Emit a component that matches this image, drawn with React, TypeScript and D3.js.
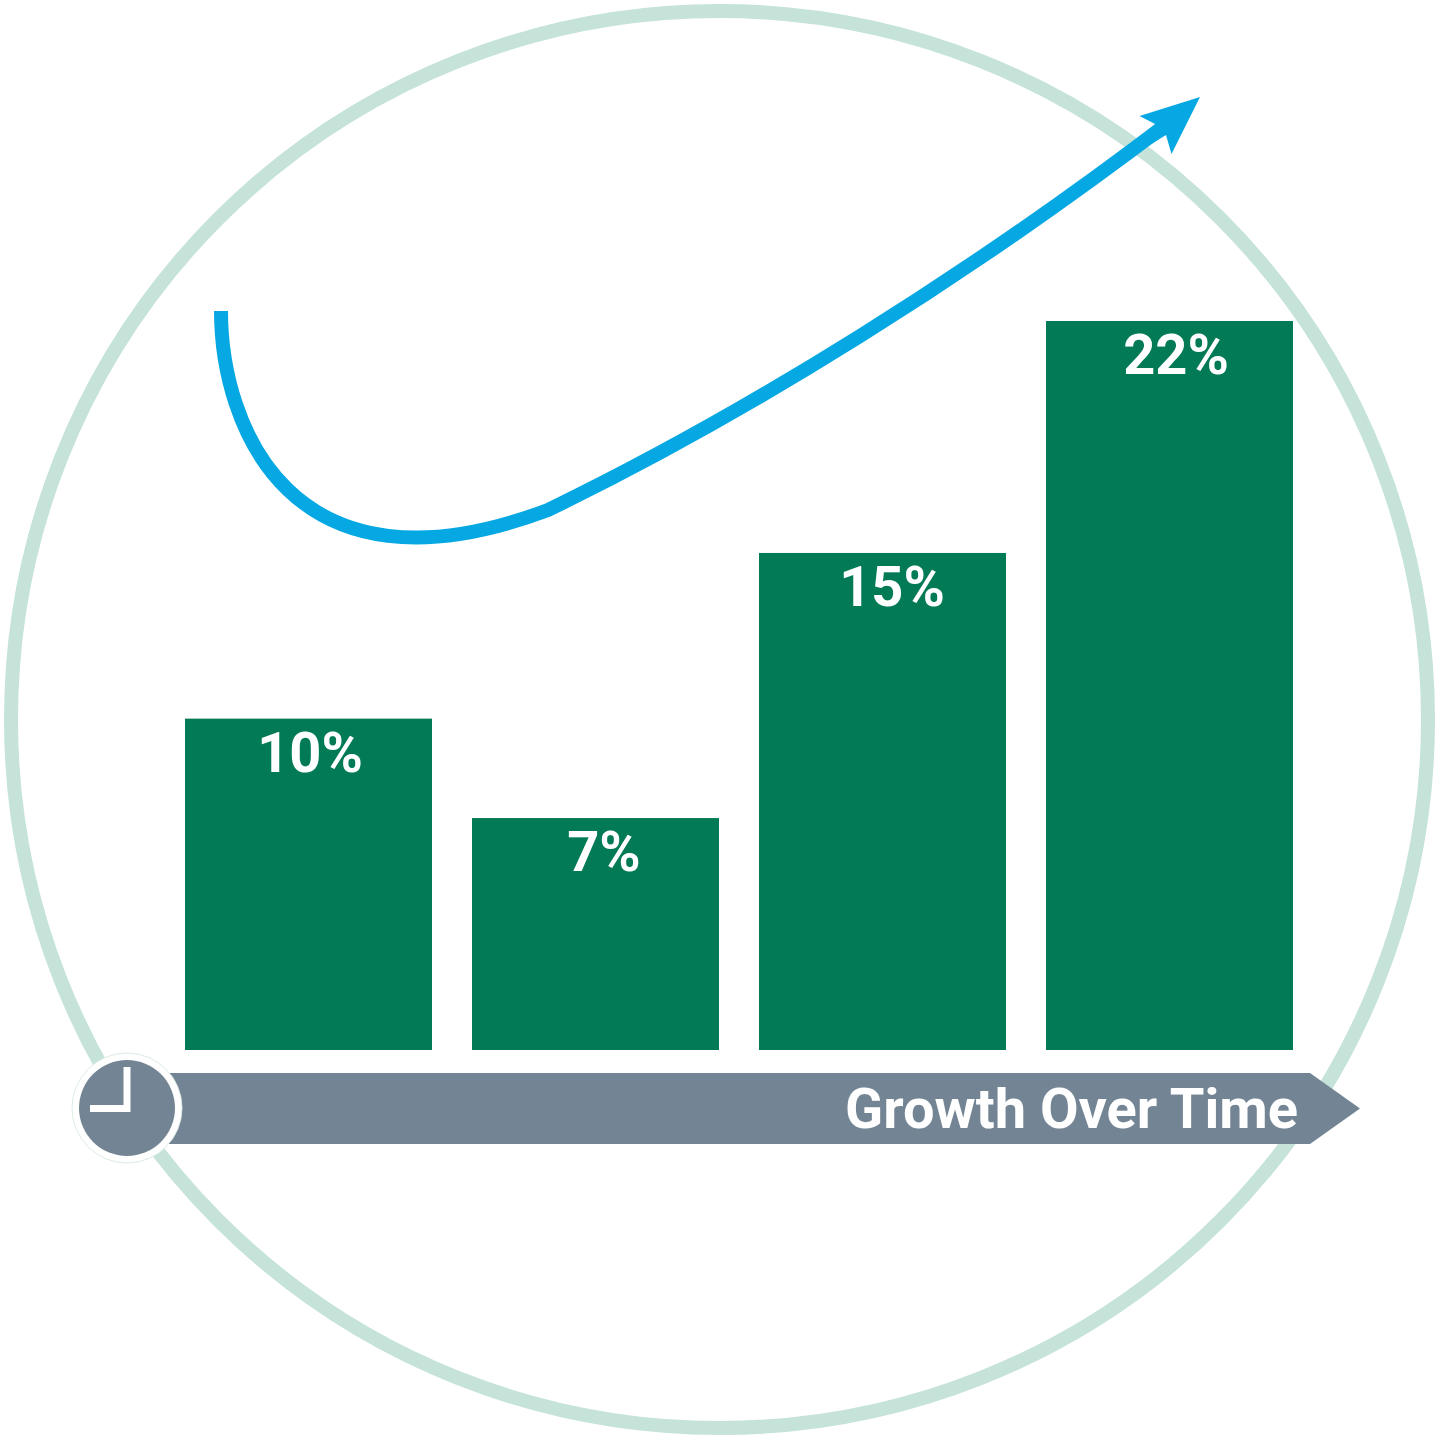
import React from "react";
import * as d3 from "d3";

const categories = ["A", "B", "C", "D"];
const values = [10, 7, 15, 22];
const labels = ["10%", "7%", "15%", "22%"];
const labelOffsets = [1.5, 8.5, 9.5, 6.5];
const trendStart = [221, 311];
const trendDip = [[221, 425], [290, 607], [548, 510]];
const trendRise = [[750, 412], [970, 274], [1168, 123]];
const FONT = "Roboto, sans-serif";
const SLATE = "#738594";

export default function App() {
  const x = d3.scaleBand<string>().domain(categories).range([185, 1293]).paddingInner(40 / 287).paddingOuter(0);
  const y = d3.scaleLinear().domain([0, 22]).range([1050, 321]);
  const trend = d3.path();
  trend.moveTo(trendStart[0], trendStart[1]);
  trend.bezierCurveTo(trendDip[0][0], trendDip[0][1], trendDip[1][0], trendDip[1][1], trendDip[2][0], trendDip[2][1]);
  trend.bezierCurveTo(trendRise[0][0], trendRise[0][1], trendRise[1][0], trendRise[1][1], trendRise[2][0], trendRise[2][1]);
  return (
    <svg width={1440} height={1440} viewBox="0 0 1440 1440" style={{ position: "absolute", left: 0, top: 0, background: "#fff" }}>
      <circle cx={719.5} cy={719.5} r={708.5} fill="none" stroke="#c5e3d8" strokeWidth={14} />
      {categories.map((c, i) => (
        <g key={c}>
          <rect x={x(c)} y={y(values[i])} width={x.bandwidth()} height={y(0) - y(values[i])} fill="#037a56" />
          <text x={x(c)! + x.bandwidth() / 2 + labelOffsets[i]} y={y(values[i]) + 53} textAnchor="middle"
            fontFamily={FONT} fontWeight={700} fontSize={56} fill="#fff">{labels[i]}</text>
        </g>
      ))}
      <path d={trend.toString()} fill="none" stroke="#05a8e3" strokeWidth={14} strokeLinejoin="round" />
      <path d="M1200,97 L1139.5,116 L1157,125 L1050,207 L1166,135 L1171.5,154 Z" fill="#05a8e3" />
      <path d="M150,1073 L1310,1073 L1360,1108.5 L1310,1144 L150,1144 Z" fill={SLATE} />
      <text x={1298} y={1128} textAnchor="end" fontFamily={FONT} fontWeight={700} fontSize={56} fill="#fff">Growth Over Time</text>
      <circle cx={127} cy={1108} r={55} fill="#fff" stroke="#dcebe6" strokeWidth={1} />
      <circle cx={127} cy={1108} r={48} fill={SLATE} />
      <path d="M127,1067 L127,1108.5 L90,1108.5" fill="none" stroke="#fff" strokeWidth={7} />
    </svg>
  );
}
